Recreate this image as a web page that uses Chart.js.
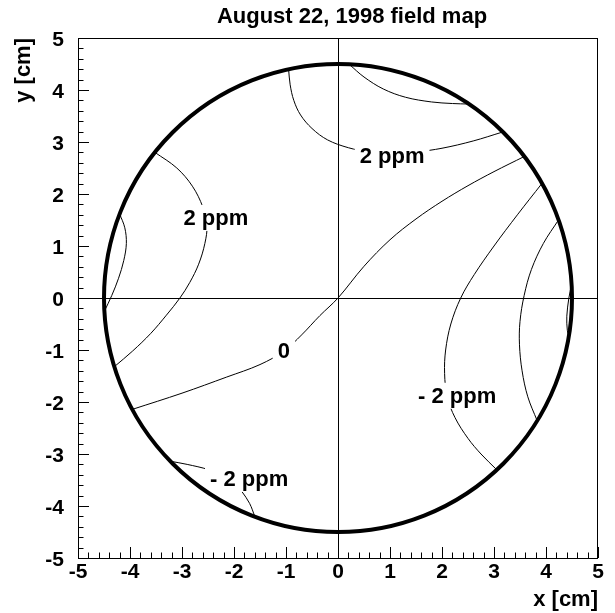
<!DOCTYPE html>
<html>
<head>
<meta charset="utf-8">
<script src="https://cdn.jsdelivr.net/npm/chart.js@4.4.1/dist/chart.umd.min.js"></script>
<style>
    html, body { margin: 0; padding: 0; background: #fff; }
    #wrap { width: 615px; height: 613px; }
</style>
</head>
<body>
<div id="wrap"><canvas id="field-map" width="615" height="613"></canvas></div>
<script>
const chartTitle = "August 22, 1998 field map"
const xTitle = "x [cm]"
const yTitle = "y [cm]"
const axisTicks = [-5, -4, -3, -2, -1, 0, 1, 2, 3, 4, 5]
const minorPerMajor = 5
const boundaryRadius = 4.5

// contour lines, [x, y] in cm
const contourTopArc = [
    [0.22, 4.49], [0.5, 4.25], [0.87, 4.02], [1.3, 3.86], [1.8, 3.77], [2.2, 3.74], [2.52, 3.73],
]
const contourUpper = [
    [-0.95, 4.4], [-0.92, 4.1], [-0.85, 3.8], [-0.72, 3.52], [-0.5, 3.26], [-0.2, 3.04],
    [0.2, 2.89], [0.6, 2.81], [1.0, 2.79], [1.5, 2.81], [2.0, 2.88], [2.6, 3.02], [3.16, 3.19],
]
const contourZero = [
    [-3.95, -2.14], [-3.0, -1.83], [-2.14, -1.52], [-1.5, -1.28], [-1.04, -1.02], [-0.7, -0.71],
    [-0.35, -0.34], [0, 0], [0.5, 0.61], [1.0, 1.12], [1.5, 1.52], [2.0, 1.86], [2.5, 2.16],
    [3.0, 2.43], [3.58, 2.72],
]
const contourRightInner = [
    [3.92, 2.2], [3.45, 1.6], [3.0, 1.0], [2.62, 0.45], [2.36, 0], [2.17, -0.5], [2.07, -1.0],
    [2.05, -1.45], [2.1, -1.9], [2.25, -2.3], [2.5, -2.7], [2.75, -3.0], [3.05, -3.3],
]
const contourRightOuter = [
    [4.24, 1.5], [3.95, 1.05], [3.72, 0.55], [3.58, 0.05], [3.5, -0.45], [3.49, -0.9],
    [3.54, -1.4], [3.65, -1.9], [3.83, -2.36],
]
const contourRightEdge = [
    [4.49, 0.25], [4.44, 0], [4.4, -0.35], [4.41, -0.62], [4.44, -0.75],
]
const contourLeft = [
    [-3.52, 2.8], [-3.1, 2.5], [-2.8, 2.15], [-2.6, 1.75], [-2.52, 1.4], [-2.56, 1.05],
    [-2.68, 0.65], [-2.85, 0.3], [-3.04, 0], [-3.3, -0.33], [-3.6, -0.68], [-3.95, -1.02],
    [-4.3, -1.32],
]
const contourLeftEdge = [
    [-4.2, 1.62], [-4.1, 1.35], [-4.07, 1.05], [-4.12, 0.72], [-4.22, 0.38], [-4.35, 0.05],
    [-4.49, -0.25],
]
const contourBottom = [
    [-3.22, -3.14], [-2.9, -3.2], [-2.49, -3.3], [-2.2, -3.42], [-1.98, -3.56], [-1.85, -3.72],
    [-1.7, -3.95], [-1.6, -4.2],
]
const contours = [
    contourTopArc, contourUpper, contourZero, contourRightInner, contourRightOuter,
    contourRightEdge, contourLeft, contourLeftEdge, contourBottom,
]

// contour labels: text and where it sits, in cm
const labelTexts = ["2 ppm", "2 ppm", "0", "- 2 ppm", "- 2 ppm"]
const labelX = [1.04, -2.35, -1.04, 2.29, -1.71]
const labelY = [2.73, 1.54, -1.01, -1.88, -3.48]

const fontFamily = "'Liberation Sans', Arial, Helvetica, sans-serif"
Chart.defaults.font.family = fontFamily
Chart.defaults.color = "#000"

const fieldMapDecor = {
    id: "fieldMapDecor",
    beforeDatasetsDraw(chart) {
        const { ctx, chartArea: a, scales: { x, y } } = chart
        const x0 = Math.round(x.getPixelForValue(0)) + 0.5
        const y0 = Math.round(y.getPixelForValue(0)) + 0.5
        ctx.save()
        ctx.strokeStyle = "#000"
        ctx.lineWidth = 1
        ctx.beginPath()
        ctx.moveTo(x0, a.top)
        ctx.lineTo(x0, a.bottom)
        ctx.moveTo(a.left, y0)
        ctx.lineTo(a.right, y0)
        ctx.stroke()
        ctx.restore()
    },
    afterDatasetsDraw(chart) {
        const { ctx, scales: { x, y } } = chart
        ctx.save()

        // contour labels on a white patch
        ctx.font = "bold 22px " + fontFamily
        ctx.textAlign = "center"
        ctx.textBaseline = "middle"
        for (let i = 0; i < labelTexts.length; i++) {
            const px = x.getPixelForValue(labelX[i])
            const py = y.getPixelForValue(labelY[i])
            const w = ctx.measureText(labelTexts[i]).width
            ctx.fillStyle = "#fff"
            ctx.fillRect(px - w / 2 - 5, py - 13, w + 10, 26)
            ctx.fillStyle = "#000"
            ctx.fillText(labelTexts[i], px, py + 1)
        }

        // detector boundary
        const cx = x.getPixelForValue(0)
        const cy = y.getPixelForValue(0)
        const r = x.getPixelForValue(boundaryRadius) - cx
        ctx.strokeStyle = "#000"
        ctx.lineWidth = 4
        ctx.beginPath()
        ctx.arc(cx, cy, r, 0, Math.PI * 2)
        ctx.stroke()
        ctx.restore()
    },
    afterDraw(chart) {
        const { ctx, chartArea: a, scales: { x, y } } = chart
        ctx.save()
        ctx.strokeStyle = "#000"
        ctx.lineWidth = 1
        ctx.strokeRect(a.left + 0.5, a.top + 0.5, a.right - a.left - 1, a.bottom - a.top)

        // inward ticks on bottom and left axes
        ctx.beginPath()
        for (let i = 0; i < axisTicks.length; i++) {
            const step = i < axisTicks.length - 1 ? (axisTicks[i + 1] - axisTicks[i]) / minorPerMajor : 0
            for (let k = 0; k < minorPerMajor; k++) {
                if (k > 0 && step == 0) break
                const v = axisTicks[i] + k * step
                const len = k == 0 ? 11 : 5.5
                const px = Math.round(x.getPixelForValue(v)) + 0.5
                const py = Math.round(y.getPixelForValue(v)) + 0.5
                ctx.moveTo(px, a.bottom)
                ctx.lineTo(px, a.bottom - len)
                ctx.moveTo(a.left, py)
                ctx.lineTo(a.left + len, py)
            }
        }
        ctx.stroke()

        // title
        ctx.fillStyle = "#000"
        ctx.font = "bold 22px " + fontFamily
        ctx.textAlign = "center"
        ctx.textBaseline = "middle"
        ctx.fillText(chartTitle, 352, 17)
        ctx.restore()
    },
}

const tickSetup = (scale) => {
    scale.ticks = axisTicks.map((v) => ({ value: v }))
}

new Chart(document.getElementById("field-map"), {
    type: "scatter",
    data: {
        datasets: contours.map((c) => ({
            data: c.map(([px, py]) => ({ x: px, y: py })),
            showLine: true,
            borderColor: "#000",
            borderWidth: 1,
            pointRadius: 0,
            tension: 0.35,
            fill: false,
        })),
    },
    options: {
        responsive: false,
        animation: false,
        devicePixelRatio: 1,
        layout: { padding: { top: 38, right: 17, left: 0, bottom: 0 } },
        plugins: {
            legend: { display: false },
            tooltip: { enabled: false },
        },
        scales: {
            x: {
                type: "linear",
                min: -5,
                max: 5,
                afterBuildTicks: tickSetup,
                afterFit: (s) => { s.height = 55 },
                grid: { display: false, drawTicks: false },
                border: { display: false },
                ticks: {
                    autoSkip: false,
                    maxRotation: 0,
                    padding: 2,
                    color: "#000",
                    font: { size: 21, weight: "bold" },
                },
                title: {
                    display: true,
                    text: xTitle,
                    align: "end",
                    color: "#000",
                    padding: { top: 0, bottom: 0 },
                    font: { size: 22, weight: "bold" },
                },
            },
            y: {
                type: "linear",
                min: -5,
                max: 5,
                afterBuildTicks: tickSetup,
                afterFit: (s) => { s.width = 78 },
                grid: { display: false, drawTicks: false },
                border: { display: false },
                ticks: {
                    autoSkip: false,
                    padding: 14,
                    labelOffset: 2,
                    color: "#000",
                    font: { size: 21, weight: "bold" },
                },
                title: {
                    display: true,
                    text: yTitle,
                    align: "end",
                    color: "#000",
                    padding: { top: 11, bottom: 0 },
                    font: { size: 22, weight: "bold" },
                },
            },
        },
    },
    plugins: [fieldMapDecor],
})
</script>
</body>
</html>
